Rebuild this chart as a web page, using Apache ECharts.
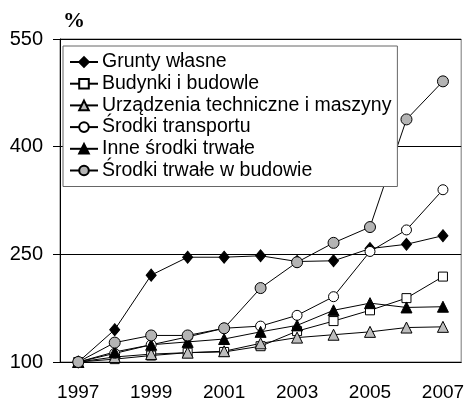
<!DOCTYPE html>
<html lang="pl">
<head>
<meta charset="UTF-8">
<title>Środki trwałe</title>
<script src="https://cdn.jsdelivr.net/npm/echarts@6/dist/echarts.min.js"></script>
<style>
  body { margin: 0; padding: 0; background: #fff; }
  #chart { width: 467px; height: 403px; }
</style>
</head>
<body>
<div id="chart"></div>
<script>
// dane
var years = ['1997','1998','1999','2000','2001','2002','2003','2004','2005','2006','2007'];
var grunty = [100, 145, 221, 246, 246, 248, 240, 241, 258, 264, 276];
var budynki = [100, 104, 109, 113, 114, 122, 143, 157, 172, 189, 219];
var urzadzenia = [100, 107, 111, 113, 115, 126, 134, 138, 142, 148, 149];
var transport = [100, 112, 124, 135, 147, 150, 165, 191, 254, 284, 340];
var inne = [100, 114, 124, 128, 132, 142, 151, 172, 182, 176, 177];
var wBudowie = [100, 127, 137, 137, 147, 203, 239, 266, 288, 438, 491];
var yTicks = [100, 250, 400, 550];

var font = '"Liberation Sans", Arial, sans-serif';

function mk(name, data, symbol, size, fill) {
  return {
    name: name, type: 'line', data: data,
    symbol: symbol, symbolSize: size,
    lineStyle: { color: '#000', width: 1 },
    itemStyle: { color: fill, borderColor: '#000', borderWidth: 1 },
    emphasis: { disabled: true }
  };
}

var chart = echarts.init(document.getElementById('chart'));
chart.setOption({
  animation: false,
  title: {
    text: '%', left: 58, top: 5,
    textStyle: { fontFamily: '"Liberation Serif", serif', fontWeight: 'bold', fontSize: 22, color: '#000' }
  },
  grid: { left: 60, right: 4, top: 39, bottom: 41, show: true, borderColor: '#777', borderWidth: 1 },
  legend: {
    orient: 'vertical', left: 63, top: 46,
    backgroundColor: '#fff', borderColor: '#666', borderWidth: 1,
    padding: [6, 6, 6, 6],
    itemWidth: 28, itemHeight: 12, itemGap: 1.7,
    textStyle: { fontFamily: font, fontSize: 19.5, lineHeight: 20, color: '#000', padding: [0, 0, 0, -1] },
    data: ['Grunty własne', 'Budynki i budowle', 'Urządzenia techniczne i maszyny',
           'Środki transportu', 'Inne środki trwałe', 'Środki trwałe w budowie']
  },
  xAxis: {
    type: 'category', data: years, boundaryGap: true,
    axisLine: { lineStyle: { color: '#000' } },
    axisTick: { interval: 0, length: 6, lineStyle: { color: '#000' } },
    axisLabel: { interval: 1, fontFamily: font, fontSize: 19, color: '#000', margin: 21 }
  },
  yAxis: {
    type: 'value', min: yTicks[0], max: yTicks[yTicks.length - 1], interval: 150,
    axisLine: { show: true, lineStyle: { color: '#000' } },
    axisTick: { show: true, length: 7, lineStyle: { color: '#000' } },
    axisLabel: { fontFamily: font, fontSize: 20, color: '#000', margin: 17 },
    splitLine: { show: true, lineStyle: { color: '#000', width: 1 } }
  },
  series: [
    mk('Grunty własne', grunty, 'diamond', [10, 12], '#000'),
    mk('Budynki i budowle', budynki, 'rect', 9, '#fff'),
    mk('Urządzenia techniczne i maszyny', urzadzenia, 'triangle', 11, '#bdbdbd'),
    mk('Środki transportu', transport, 'circle', 10, '#fff'),
    mk('Inne środki trwałe', inne, 'triangle', 11, '#000'),
    mk('Środki trwałe w budowie', wBudowie, 'circle', 11, '#b4b4b4')
  ]
});
</script>
</body>
</html>
